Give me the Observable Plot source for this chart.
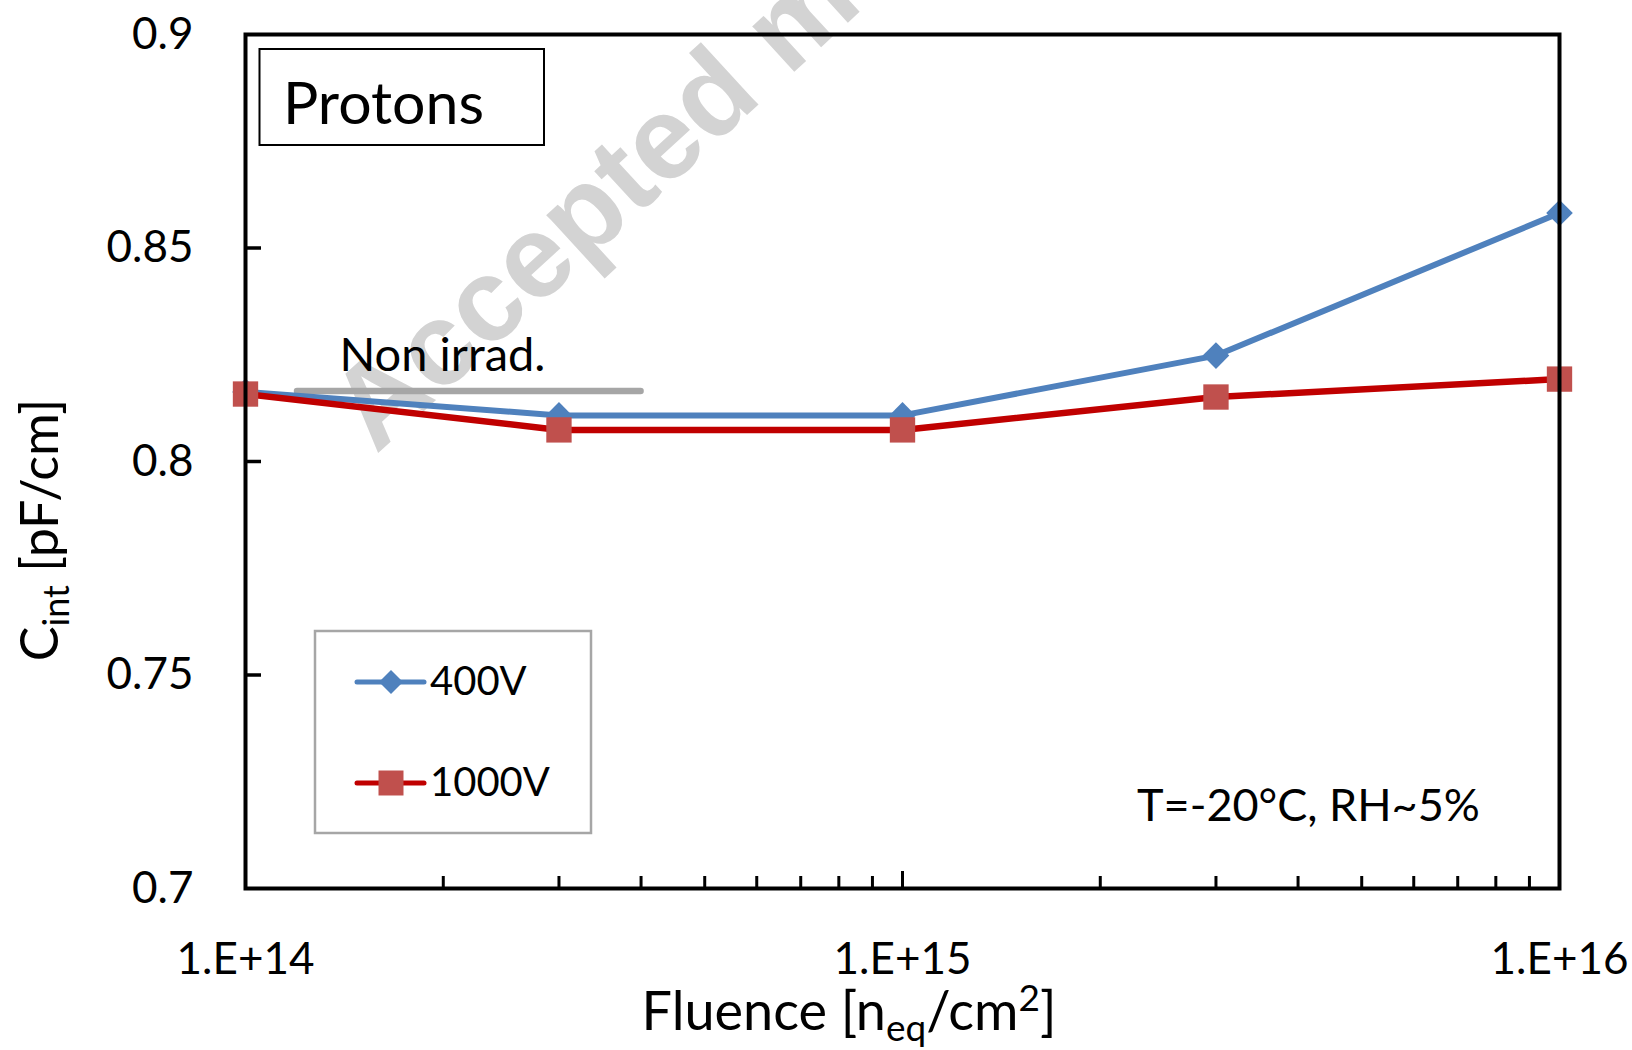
<!DOCTYPE html>
<html><head><meta charset="utf-8">
<script src="https://cdn.jsdelivr.net/npm/d3@7"></script>
<script src="https://cdn.jsdelivr.net/npm/@observablehq/plot@0.6"></script>
<style>body{margin:0;background:#fff} svg{display:block}</style>
</head><body><div id="chart"></div>
<script>
// ---- data ----
const fluence = [1e14, 3e14, 1e15, 3e15, 1e16];
const cint400 = [0.8163, 0.8108, 0.8108, 0.8248, 0.8582];
const cint1000 = [0.8158, 0.8074, 0.8074, 0.8151, 0.8193];
const seriesNames = ["400V", "1000V"];
const xTicks = [1e14, 1e15, 1e16];
const xMinorTicks = [2e14, 3e14, 4e14, 5e14, 6e14, 7e14, 8e14, 9e14, 2e15, 3e15, 4e15, 5e15, 6e15, 7e15, 8e15, 9e15];
const xMidTicks = [1e15];
const yTicks = [0.7, 0.75, 0.8, 0.85, 0.9];
const yInnerTicks = [0.75, 0.8, 0.85];
const nonIrradX = [1.2e14, 4.0e14];
const nonIrradY = [0.8165];
const nonIrradLabel = [{x: 1.39e14, y: 0.8212, text: "Non irrad."}];

const W = 1632, H = 1050;
const mL = 245, mR = 73, mT = 34, mB = 162;
const plotW = W - mL - mR, plotH = H - mT - mB;

const d400 = fluence.map((f, i) => ({f, c: cint400[i]}));
const d1000 = fluence.map((f, i) => ({f, c: cint1000[i]}));

const blue = "#4f81bd", redLine = "#c00000", redMark = "#c0504d";

const chart = Plot.plot({
  width: W, height: H,
  marginLeft: mL, marginRight: mR, marginTop: mT, marginBottom: mB,
  style: {fontFamily: "Lato", background: "white", color: "black"},
  x: {type: "log", domain: [1e14, 1e16]},
  y: {domain: [0.7, 0.9]},
  marks: [
    Plot.ruleY(nonIrradY, {x1: nonIrradX[0], x2: nonIrradX[1], stroke: "#a6a6a6", strokeWidth: 6.5, strokeLinecap: "round"}),
    Plot.text(nonIrradLabel, {x: "x", y: "y", text: "text", textAnchor: "start", lineAnchor: "bottom", fontSize: 47, fill: "black"}),
    Plot.line(d400, {x: "f", y: "c", stroke: blue, strokeWidth: 6}),
    Plot.dot(d400, {x: "f", y: "c", symbol: "diamond2", r: 12, fill: blue}),
    Plot.line(d1000, {x: "f", y: "c", stroke: redLine, strokeWidth: 6.5}),
    Plot.dot(d1000, {x: "f", y: "c", symbol: "square", r: 14.3, fill: redMark}),
    Plot.ruleX(xMinorTicks, {insetTop: plotH - 12, strokeWidth: 3, stroke: "black"}),
    Plot.ruleX(xMidTicks, {insetTop: plotH - 17, strokeWidth: 3, stroke: "black"}),
    Plot.ruleY(yInnerTicks, {insetRight: plotW - 16, strokeWidth: 3.5, stroke: "black"}),
    Plot.frame({stroke: "black", strokeWidth: 4}),
    Plot.axisX({ticks: xTicks, tickFormat: d => "1.E+" + Math.round(Math.log10(d)), tickSize: 0, tickPadding: 54, fontSize: 44, label: null}),
    Plot.axisY({ticks: yTicks, tickFormat: d => String(d), tickSize: 0, tickPadding: 52, fontSize: 44, textAnchor: "end", label: null})
  ]
});
document.getElementById("chart").appendChild(chart);

const svg = d3.select(chart);

// watermark behind everything
svg.insert("text", ":first-child")
  .attr("transform", "translate(376,455) rotate(-42.5)")
  .attr("text-anchor", "start")
  .attr("font-family", "Liberation Sans, Arial, sans-serif")
  .attr("font-weight", "bold")
  .attr("font-size", 117)
  .attr("fill", "#d3d3d3")
  .text("Accepted manuscript");
svg.insert("rect", ":first-child").attr("width", W).attr("height", H).attr("fill", "white");

// Protons box
svg.append("rect").attr("x", 259.5).attr("y", 49).attr("width", 284.5).attr("height", 96)
  .attr("fill", "white").attr("stroke", "black").attr("stroke-width", 2);
svg.append("text").attr("x", 283).attr("y", 124).attr("text-anchor", "start")
  .attr("font-family", "Lato").attr("font-size", 59).attr("fill", "black").text("Protons");

// legend
const lg = svg.append("g").attr("font-family", "Lato").attr("text-anchor", "start");
lg.append("rect").attr("x", 315).attr("y", 631).attr("width", 276).attr("height", 202)
  .attr("fill", "white").attr("stroke", "#a6a6a6").attr("stroke-width", 2.5);
const legendRows = [
  {name: seriesNames[0], y: 682, stroke: blue, fill: blue, sym: d3.symbolDiamond2, size: 367},
  {name: seriesNames[1], y: 783, stroke: redLine, fill: redMark, sym: d3.symbolSquare, size: 625}
];
for (const r of legendRows) {
  lg.append("line").attr("x1", 357).attr("x2", 424).attr("y1", r.y).attr("y2", r.y)
    .attr("stroke", r.stroke).attr("stroke-width", 5).attr("stroke-linecap", "round");
  lg.append("path").attr("d", d3.symbol(r.sym, r.size)()).attr("transform", `translate(391,${r.y})`).attr("fill", r.fill);
  lg.append("text").attr("x", 430).attr("y", r.y + 13).attr("font-size", 40).attr("fill", "black").text(r.name);
}

// condition text
svg.append("text").attr("x", 1137).attr("y", 821).attr("text-anchor", "start")
  .attr("font-family", "Lato").attr("font-size", 45).attr("fill", "black")
  .text("T=-20°C, RH~5%");

// y title
const yt = svg.append("text").attr("transform", "translate(58,530) rotate(-90)")
  .attr("text-anchor", "middle").attr("font-family", "Lato").attr("font-size", 52).attr("fill", "black");
yt.append("tspan").text("C");
yt.append("tspan").attr("font-size", 36).attr("dy", 11).text("int");
yt.append("tspan").attr("dy", -11).text(" [pF/cm]");

// x title
const xt = svg.append("text").attr("x", 849).attr("y", 1030)
  .attr("text-anchor", "middle").attr("font-family", "Lato").attr("font-size", 54).attr("fill", "black");
xt.append("tspan").text("Fluence [n");
xt.append("tspan").attr("font-size", 37).attr("dy", 11).text("eq");
xt.append("tspan").attr("dy", -11).text("/cm");
xt.append("tspan").attr("font-size", 37).attr("dy", -19).text("2");
xt.append("tspan").attr("dy", 19).text("]");
</script>
</body></html>
